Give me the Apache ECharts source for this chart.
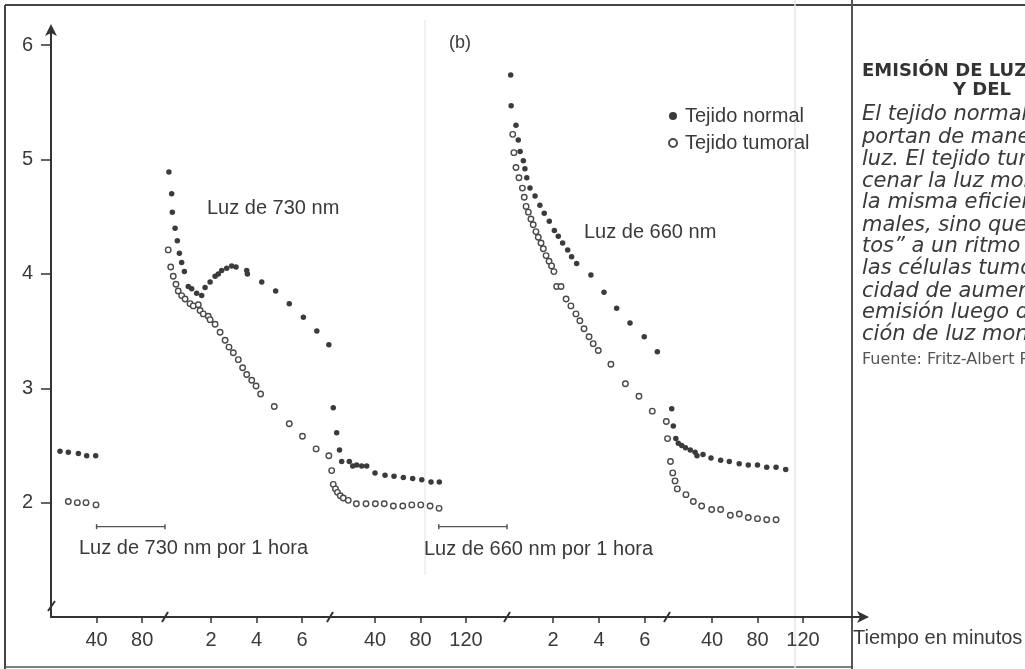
<!DOCTYPE html>
<html>
<head>
<meta charset="utf-8">
<script src="https://cdn.jsdelivr.net/npm/echarts@6/dist/echarts.min.js"></script>
<style>
html,body{margin:0;padding:0;background:#fff;}
#chart{width:1025px;height:669px;}
</style>
</head>
<body>
<div id="chart"></div>
<script>
// ---------- DATA ----------
// Segment 1: minutes before light (0..100)
const seg1Normal = [[7.9,2.45],[15.2,2.44],[24.0,2.43],[31.3,2.41],[39.2,2.41]];
const seg1Tumor  = [[15.2,2.01],[23.1,2.00],[30.7,2.00],[39.5,1.98]];
// Segment 2: after 730 nm light (short time scale)
const seg2Normal = [[0.15,4.89],[0.27,4.70],[0.30,4.54],[0.42,4.40],[0.52,4.29],[0.61,4.18],[0.71,4.10],[0.83,4.02],
  [1.00,3.89],[1.15,3.87],[1.37,3.83],[1.59,3.81],[1.74,3.88],[1.96,3.93],[2.18,3.98],[2.32,4.00],[2.47,4.03],
  [2.69,4.05],[2.91,4.07],[3.10,4.06],[3.57,4.03],[3.60,4.00],[4.23,3.93],[4.84,3.85],[5.44,3.74],[6.06,3.62],
  [6.65,3.50],[7.18,3.38]];
const seg2Tumor  = [[0.12,4.21],[0.23,4.06],[0.34,3.98],[0.46,3.91],[0.56,3.85],[0.71,3.81],[0.86,3.78],[1.08,3.74],
  [1.22,3.72],[1.44,3.73],[1.52,3.68],[1.66,3.65],[1.88,3.63],[1.96,3.60],[2.18,3.56],[2.40,3.49],[2.62,3.42],
  [2.79,3.36],[2.98,3.31],[3.20,3.25],[3.39,3.18],[3.57,3.12],[3.79,3.07],[3.98,3.02],[4.18,2.95],[4.78,2.84],
  [5.44,2.69],[6.02,2.58],[6.62,2.47],[7.18,2.41]];
// Segment 3: minutes after 730 nm light (0..156)
const seg3Normal = [[3.3,2.83],[6.3,2.61],[8.8,2.46],[10.7,2.36],[17.4,2.36],[20.4,2.32],[23.9,2.33],[28.3,2.32],
  [32.7,2.32],[40.0,2.26],[48.8,2.24],[56.7,2.23],[64.9,2.22],[73.1,2.21],[81.1,2.20],[89.2,2.18],[96.5,2.18]];
const seg3Tumor  = [[1.9,2.28],[3.3,2.16],[5.3,2.12],[7.0,2.09],[9.5,2.06],[12.1,2.04],[16.5,2.02],[23.6,1.99],
  [32.1,1.99],[40.3,1.99],[48.1,1.99],[56.1,1.97],[64.4,1.97],[72.3,1.98],[80.2,1.98],[88.4,1.97],[96.3,1.95]];
// Segment 4: after 660 nm light (short time scale)
const seg4Normal = [[0.16,5.74],[0.18,5.47],[0.39,5.30],[0.49,5.17],[0.57,5.07],[0.71,4.99],[0.78,4.92],[0.86,4.84],
  [1.00,4.75],[1.22,4.68],[1.43,4.60],[1.62,4.53],[1.84,4.46],[2.06,4.38],[2.23,4.33],[2.42,4.27],[2.64,4.21],
  [2.81,4.15],[3.03,4.09],[3.65,3.99],[4.22,3.84],[4.77,3.70],[5.35,3.57],[5.97,3.45],[6.54,3.32]];
const seg4Tumor  = [[0.25,5.22],[0.30,5.06],[0.39,4.93],[0.52,4.84],[0.67,4.75],[0.75,4.67],[0.83,4.59],[0.93,4.54],
  [1.04,4.48],[1.14,4.43],[1.26,4.37],[1.36,4.32],[1.48,4.27],[1.58,4.22],[1.70,4.16],[1.83,4.11],[1.94,4.07],
  [2.04,4.02],[2.16,3.89],[2.35,3.89],[2.57,3.78],[2.78,3.72],[3.00,3.65],[3.17,3.59],[3.35,3.52],[3.57,3.45],
  [3.75,3.39],[3.97,3.33],[4.52,3.21],[5.15,3.04],[5.74,2.93],[6.32,2.80],[6.93,2.71]];
// Segment 5: minutes after 660 nm light (0..174)
const seg5Normal = [[4.6,2.82],[6.0,2.67],[8.2,2.56],[10.4,2.52],[13.4,2.50],[16.7,2.48],[20.9,2.46],[25.1,2.44],
  [26.8,2.41],[32.1,2.42],[39.1,2.39],[47.6,2.37],[55.2,2.36],[63.9,2.34],[71.9,2.33],[80.0,2.33],[88.1,2.31],
  [96.3,2.31],[104.8,2.29]];
const seg5Tumor  = [[0.9,2.56],[3.5,2.36],[5.5,2.26],[7.5,2.19],[9.5,2.12],[17.1,2.07],[23.6,2.01],[30.9,1.97],
  [39.7,1.94],[47.6,1.94],[56.1,1.89],[64.0,1.90],[71.9,1.87],[80.0,1.86],[88.1,1.85],[96.3,1.85]];
// Light exposure bars (1 hour)
const light730 = [[40,1.79],[100,1.79]];
const light660 = [[96,1.79],[156,1.79]];
// Tick labels
const yTicks = [2,3,4,5,6];
const ticksMinShort = [40,80];
const ticksHours = [2,4,6];
const ticksMin = [40,80,120];
const segRanges = [[0,100],[0,7.23],[0,156],[0,6.96],[0,174.5]];
const segTicks = [ticksMinShort, ticksHours, ticksMin, ticksHours, ticksMin];

// ---------- STYLE ----------
const INK = '#333';
const TXT = '#3a3a3a';
const SANS = '"Liberation Sans", Arial, sans-serif';
const gridPx = [[51,114],[165.5,164.5],[329.5,177.5],[507,160],[666.5,198.5]];
const TOP = 28, H = 589;

const chart = echarts.init(document.getElementById('chart'), null, {renderer:'canvas'});

const grids = gridPx.map(g => ({left:g[0], top:TOP, width:g[1], height:H, containLabel:false, outerBoundsMode:'none'}));
const xAxes = gridPx.map((g,i) => ({
  type:'value', gridIndex:i, min:segRanges[i][0], max:segRanges[i][1],
  axisLine:{show:true, onZero:false, lineStyle:{color:INK, width:2},
    symbol: i===4 ? ['none','arrow'] : 'none', symbolSize:[9,12], symbolOffset:[0,4]},
  axisTick:{show:true, customValues:segTicks[i], length:6, lineStyle:{color:INK, width:1.5}},
  axisLabel:{show:true, customValues:segTicks[i], fontSize:20, fontFamily:SANS, color:TXT, margin:13},
  splitLine:{show:false}
}));
const yAxes = gridPx.map((g,i) => ({
  type:'value', gridIndex:i, min:1, max:6.15, show: i===0,
  axisLine:{show:true, lineStyle:{color:INK, width:2}, symbol:['none','arrow'], symbolSize:[9,12], symbolOffset:[0,4]},
  axisTick:{show:true, customValues:yTicks, length:10, lineStyle:{color:INK, width:1.5}},
  axisLabel:{show:true, customValues:yTicks, fontSize:20, fontFamily:SANS, color:TXT, margin:18},
  splitLine:{show:false}
}));

const normalSets = [seg1Normal, seg2Normal, seg3Normal, seg4Normal, seg5Normal];
const tumorSets  = [seg1Tumor, seg2Tumor, seg3Tumor, seg4Tumor, seg5Tumor];
const series = [];
normalSets.forEach((d,i) => series.push({
  type:'scatter', name:'Tejido normal', xAxisIndex:i, yAxisIndex:i, data:d,
  symbol:'circle', symbolSize:5.5, itemStyle:{color:'#3b3b3b', opacity:1}, silent:true, z:3
}));
tumorSets.forEach((d,i) => series.push({
  type:'scatter', name:'Tejido tumoral', xAxisIndex:i, yAxisIndex:i, data:d,
  symbol:'circle', symbolSize:5.5, itemStyle:{color:'#fff', borderColor:'#4a4a4a', borderWidth:1.4, opacity:1}, silent:true, z:2
}));
[[light730,0],[light660,2]].forEach(([d,i]) => series.push({
  type:'line', xAxisIndex:i, yAxisIndex:i, data:d, symbol:'rect', symbolSize:[1.5,5],
  showSymbol:true, lineStyle:{color:'#555', width:1.3}, itemStyle:{color:'#555'}, silent:true, animation:false
}));

function txt(x, y, text, font, extra){
  return Object.assign({type:'text', x:x, y:y, silent:true,
    style:Object.assign({text:text, font:font, fill:TXT, verticalAlign:'middle', align:'left'}, extra||{})});
}
function ln(x1,y1,x2,y2,color,w){
  return {type:'line', silent:true, shape:{x1:x1,y1:y1,x2:x2,y2:y2}, style:{stroke:color, lineWidth:w}};
}
const F20 = '20px ' + SANS;
const BODY = 'oblique 21px "DejaVu Sans", sans-serif';
const HEAD = 'bold 18px "DejaVu Sans", sans-serif';
const graphics = [
  // frame & panel lines
  ln(5,5,1025,5,'#444',2),
  ln(5,5,5,669,'#444',2),
  ln(5,667,852,667,'#555',1.5),
  ln(852,0,852,669,'#555',2),
  ln(425,20,425,575,'#e2e2e2',1),
  ln(795,0,795,669,'#e6e6e6',1.5),
  // axis break marks
  ln(48,611,55,601,INK,2),
  ln(162,622,168,612,INK,2),
  ln(327,622,333,612,INK,2),
  ln(504,622,510,612,INK,2),
  ln(664,622,670,612,INK,2),
  // annotations
  txt(449,43,'(b)','18px ' + SANS),
  txt(207,208,'Luz de 730 nm',F20),
  txt(584,232,'Luz de 660 nm',F20),
  txt(79,548,'Luz de 730 nm por 1 hora',F20),
  txt(424,549,'Luz de 660 nm por 1 hora',F20),
  txt(853,638,'Tiempo en minutos',F20),
  // side panel
  txt(862,71,'EMISIÓN DE LUZ',HEAD,{fill:'#333'}),
  txt(953,90,'Y DEL',HEAD,{fill:'#333'}),
  txt(862,115,'El tejido normal',BODY),
  txt(862,138,'portan de manera',BODY),
  txt(862,160,'luz. El tejido tumoral',BODY),
  txt(862,182,'cenar la luz monocromática',BODY),
  txt(862,203,'la misma eficiencia',BODY),
  txt(862,226,'males, sino que',BODY),
  txt(862,247,'tos” a un ritmo mayor',BODY),
  txt(862,269,'las células tumorales',BODY),
  txt(862,292,'cidad de aumentar',BODY),
  txt(862,313,'emisión luego de',BODY),
  txt(862,335,'ción de luz monocromática',BODY),
  txt(862,360,'Fuente: Fritz-Albert Popp','16px "DejaVu Sans", sans-serif',{fill:'#555'})
];

chart.setOption({
  animation:false,
  backgroundColor:'#fff',
  grid:grids, xAxis:xAxes, yAxis:yAxes, series:series,
  legend:{
    show:true, orient:'vertical', left:663, top:101, itemGap:7,
    itemWidth:14, itemHeight:8, data:['Tejido normal','Tejido tumoral'],
    textStyle:{fontSize:20, fontFamily:SANS, color:TXT}, selectedMode:false
  },
  graphic:graphics
});
</script>
</body>
</html>
